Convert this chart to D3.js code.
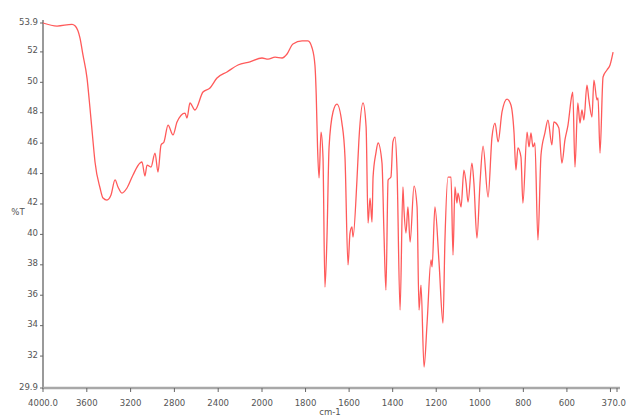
<!DOCTYPE html>
<html>
<head>
<meta charset="utf-8">
<script src="https://cdn.jsdelivr.net/npm/d3@7"></script>
<style>
  html, body { margin: 0; padding: 0; background: #fff; }
  svg { display: block; }
  .lbl { font-family: "Liberation Sans Narrow", "DejaVu Sans Condensed", sans-serif; font-size: 9.5px; fill: #555; }
</style>
</head>
<body>
<svg id="chart" width="628" height="419"></svg>
<script>
// Wavenumber (cm-1) and transmittance (%T)
const wavenumber = [4000,3872,3735,3708,3662,3635,3598,3571,3546,3525,3479,3452,3416,3379,3342,3315,3279,3233,3178,3114,3096,3069,3050,3014,2977,2950,2922,2895,2858,2813,2776,2703,2685,2658,2612,2539,2475,2411,2320,2219,2110,2000,1972,1940,1908,1885,1858,1816,1789,1770,1757,1751,1745,1738,1729,1720,1711,1702,1692,1674,1656,1633,1619,1605,1596,1587,1582,1564,1555,1536,1522,1513,1504,1495,1490,1477,1467,1449,1440,1431,1421,1408,1399,1389,1380,1366,1353,1348,1339,1330,1320,1302,1288,1279,1270,1256,1242,1224,1219,1206,1187,1169,1160,1146,1132,1123,1114,1105,1100,1086,1073,1063,1054,1036,1027,1013,999,985,962,944,930,916,898,875,857,843,834,825,811,802,783,774,765,756,747,733,719,701,687,669,660,637,623,609,595,577,573,563,550,540,531,522,508,499,485,476,462,457,448,434,416,402,388];
const transmittance = [53.90,53.70,53.81,53.72,52.91,51.80,50.28,48.31,46.34,44.76,43.05,42.39,42.26,42.59,43.58,43.12,42.72,43.05,43.91,44.69,44.76,43.84,44.56,44.43,45.35,44.10,45.88,46.08,47.19,46.54,47.39,47.98,47.65,48.64,48.18,49.36,49.63,50.28,50.68,51.14,51.34,51.60,51.53,51.66,51.60,51.86,52.52,52.72,52.72,52.26,51.14,49.17,45.75,43.71,46.73,45.09,36.54,39.63,45.75,48.05,48.57,47.32,45.09,37.99,40.09,40.49,39.83,43.58,46.21,48.64,47.06,40.75,42.39,40.81,43.77,45.35,46.01,44.69,40.09,36.34,43.58,43.77,46.08,46.40,44.23,35.03,43.12,41.60,40.09,41.80,39.50,43.18,41.80,35.03,36.67,31.28,34.17,38.32,37.86,41.80,38.12,34.17,39.63,43.77,43.77,38.64,43.12,42.06,42.72,41.80,44.23,43.38,42.13,44.69,43.38,39.76,43.38,45.81,42.46,46.40,47.32,46.08,48.05,48.90,48.51,46.73,44.23,45.68,45.09,42.06,46.73,45.75,46.67,45.75,46.01,39.63,45.22,46.67,47.52,45.88,47.39,47.00,44.69,46.21,47.19,49.17,49.36,44.43,48.64,47.32,48.18,47.52,49.82,48.84,47.72,50.15,48.84,48.97,45.35,50.35,50.81,51.14,51.99];

const yTicks = [53.9, 52, 50, 48, 46, 44, 42, 40, 38, 36, 34, 32, 29.9];
const yTickLabels = ["53.9","52","50","48","46","44","42","40","38","36","34","32","29.9"];
const xTicks = [4000, 3600, 3200, 2800, 2400, 2000, 1800, 1600, 1400, 1200, 1000, 800, 600, 400, 370];
const xTickLabels = ["4000.0","3600","3200","2800","2400","2000","1800","1600","1400","1200","1000","800","600","","370.0"];
const xTitle = "cm-1";
const yTitle = "%T";

const svg = d3.select("#chart");

// Spectrum x-axis: 2x expansion below 2000 cm-1
const x = d3.scaleLinear().domain([4000, 2000, 370]).range([43, 262, 617]);
const y = d3.scaleLinear().domain([29.9, 53.9]).range([388, 23]);

// Axis lines
svg.append("line").attr("x1", 43).attr("x2", 43).attr("y1", 20).attr("y2", 389)
  .attr("stroke", "#9a9a9a").attr("stroke-width", 2);
svg.append("line").attr("x1", 42).attr("x2", 620).attr("y1", 388).attr("y2", 388)
  .attr("stroke", "#a8a8a8").attr("stroke-width", 2.5);

// Y ticks
const yg = svg.append("g");
yTicks.forEach((t, i) => {
  yg.append("line").attr("x1", 40).attr("x2", 43).attr("y1", y(t)).attr("y2", y(t))
    .attr("stroke", "#666").attr("stroke-width", 1);
  yg.append("text").attr("class", "lbl").attr("x", 38).attr("y", y(t) - 1)
    .attr("text-anchor", "end").attr("dominant-baseline", "middle").text(yTickLabels[i]);
});

// X ticks
const xg = svg.append("g");
xTicks.forEach((t, i) => {
  xg.append("line").attr("x1", x(t)).attr("x2", x(t)).attr("y1", 388).attr("y2", 392)
    .attr("stroke", "#666").attr("stroke-width", 1);
  const last = i === xTicks.length - 1;
  xg.append("text").attr("class", "lbl")
    .attr("x", last ? 626 : x(t)).attr("y", 403)
    .attr("text-anchor", last ? "end" : "middle")
    .attr("dominant-baseline", "middle").text(xTickLabels[i]);
});

svg.append("text").attr("class", "lbl").attr("x", 330).attr("y", 412)
  .attr("text-anchor", "middle").attr("dominant-baseline", "middle").text(xTitle);
svg.append("text").attr("class", "lbl").attr("x", 18).attr("y", 212)
  .attr("text-anchor", "middle").attr("dominant-baseline", "middle").text(yTitle);

const data = wavenumber.map((w, i) => ({ w, t: transmittance[i] }));
const line = d3.line().x(d => x(d.w)).y(d => y(d.t)).curve(d3.curveMonotoneX);

svg.append("path").datum(data)
  .attr("fill", "none")
  .attr("stroke", "#ff5a5a")
  .attr("stroke-width", 1.3)
  .attr("stroke-linejoin", "round")
  .attr("d", line);
</script>
</body>
</html>
